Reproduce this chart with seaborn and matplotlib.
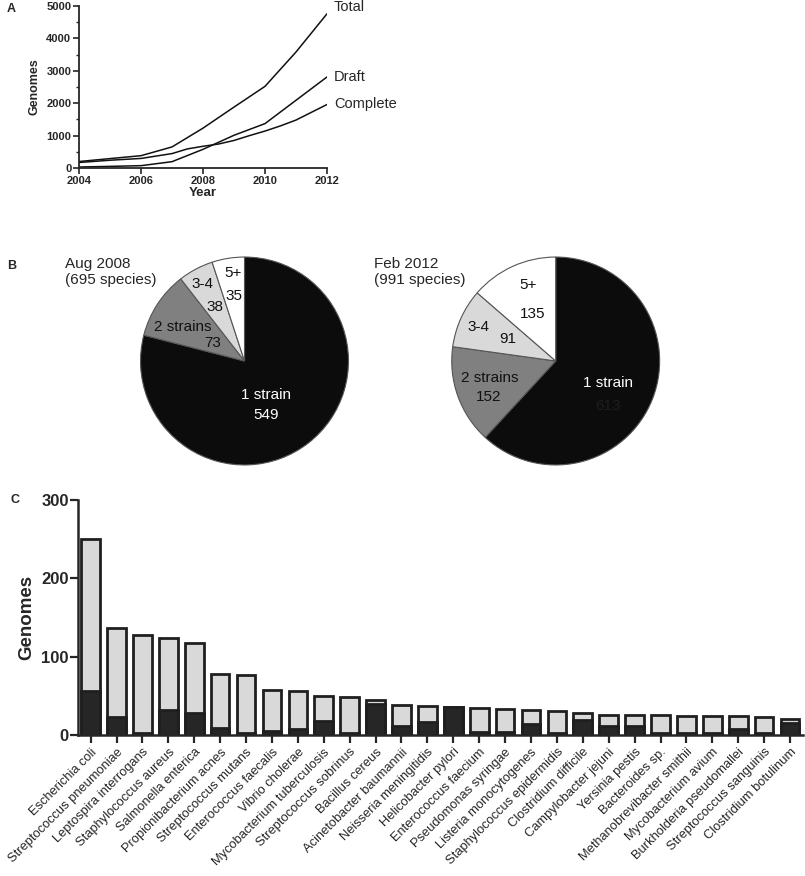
import pandas as pd
import matplotlib
matplotlib.use('Agg')
import matplotlib.pyplot as plt
from matplotlib.ticker import MultipleLocator
import seaborn as sns

# panel A: genome counts per year
years = [2004, 2005, 2006, 2007, 2008, 2009, 2010, 2011, 2012]
total = [200, 290, 380, 650, 1230, 1880, 2520, 3580, 4760]
draft = [30, 50, 72, 195, 576, 1010, 1370, 2090, 2810]
complete_years = [2004, 2005, 2006, 2007, 2007.5, 2008, 2008.5, 2009, 2009.5,
                  2010, 2010.5, 2011, 2011.5, 2012]
complete = [170, 240, 295, 445, 590, 670, 740, 850, 1000, 1140, 1300, 1480, 1720, 1960]

# panel B: species by number of sequenced strains
pie_labels = ['1 strain', '2 strains', '3-4', '5+']
aug2008 = [549, 73, 38, 35]
feb2012 = [613, 152, 91, 135]

# panel C: genomes per species
species = ['Escherichia coli', 'Streptococcus pneumoniae', 'Leptospira interrogans',
           'Staphylococcus aureus', 'Salmonella enterica', 'Propionibacterium acnes',
           'Streptococcus mutans', 'Enterococcus faecalis', 'Vibrio cholerae',
           'Mycobacterium tuberculosis', 'Streptococcus sobrinus', 'Bacillus cereus',
           'Acinetobacter baumannii', 'Neisseria meningitidis', 'Helicobacter pylori',
           'Enterococcus faecium', 'Pseudomonas syringae', 'Listeria monocytogenes',
           'Staphylococcus epidermidis', 'Clostridium difficile', 'Campylobacter jejuni',
           'Yersinia pestis', 'Bacteroides sp.', 'Methanobrevibacter smithii',
           'Mycobacterium avium', 'Burkholderia pseudomallei', 'Streptococcus sanguinis',
           'Clostridium botulinum']
total_genomes = [250, 137, 128, 124, 117, 78, 76, 58, 56, 50, 48, 45, 38, 37, 36,
                 34, 33, 32, 31, 28, 26, 26, 25, 24, 24, 24, 23, 21]
complete_genomes = [56, 23, 3, 32, 28, 9, 3, 5, 8, 18, 3, 40, 12, 16, 36,
                    4, 4, 14, 2, 19, 12, 12, 3, 2, 2, 8, 2, 15]

sns.set_style('ticks')
plt.rcParams['font.family'] = ['Liberation Sans', 'DejaVu Sans']

fig = plt.figure(figsize=(8.05, 8.76), dpi=100)
W, H = 805, 876


def px_axes(x0, y0, x1, y1):
    # axes placed by pixel box (top-left origin)
    return fig.add_axes([x0 / W, 1 - y1 / H, (x1 - x0) / W, (y1 - y0) / H])


#Panel A - line chart
axA = px_axes(79, 6, 327, 168)
sns.lineplot(x=years, y=total, ax=axA, color='#111111', lw=1.1)
sns.lineplot(x=years, y=draft, ax=axA, color='#111111', lw=1.1)
sns.lineplot(x=complete_years, y=complete, ax=axA, color='#111111', lw=1.1)
axA.set_xlim(2004, 2012)
axA.set_ylim(0, 5000)
axA.set_xticks([2004, 2006, 2008, 2010, 2012])
axA.set_yticks([0, 1000, 2000, 3000, 4000, 5000])
axA.yaxis.set_minor_locator(MultipleLocator(500))
axA.tick_params(axis='both', which='major', labelsize=8, width=1.2, length=4, pad=1.5)
axA.tick_params(axis='y', which='minor', width=1.0, length=2.5)
for lab in axA.get_xticklabels() + axA.get_yticklabels():
    lab.set_fontweight('bold')
axA.set_xlabel('Year', fontsize=9.5, fontweight='bold', labelpad=1)
axA.set_ylabel('Genomes', fontsize=9, fontweight='bold', labelpad=4)
for side in ['left', 'bottom']:
    axA.spines[side].set_linewidth(1.3)
sns.despine(ax=axA)
axA.annotate('Total', (years[-1], total[-1]), xytext=(5, 5), textcoords='offset points',
             fontsize=10.5, va='center', annotation_clip=False)
axA.annotate('Draft', (years[-1], draft[-1]), xytext=(5, 0), textcoords='offset points',
             fontsize=10.5, va='center', annotation_clip=False)
axA.annotate('Complete', (complete_years[-1], complete[-1]), xytext=(5, 0),
             textcoords='offset points', fontsize=10.5, va='center', annotation_clip=False)
fig.text(7 / W, 1 - 9 / H, 'A', fontsize=9, fontweight='bold', va='center')

#Panel B - pies
pie_colors = ['#0c0c0c', '#808080', '#d9d9d9', '#ffffff']
# label positions inside each pie (radius units), value under name
left_pos = [((0.21, -0.33), (0.21, -0.52)), ((-0.59, 0.33), (-0.31, 0.17)),
            ((-0.40, 0.74), (-0.28, 0.52)), ((-0.11, 0.85), (-0.10, 0.63))]
right_pos = [((0.50, -0.21), (0.50, -0.43)), ((-0.63, -0.16), (-0.65, -0.35)),
             ((-0.74, 0.33), (-0.46, 0.21)), ((-0.27, 0.73), (-0.22, 0.45))]
left_txt = ['white', '#111111', '#111111', '#111111']
right_txt = [('white', '#1e1e1e'), ('#111111', '#111111'), ('#111111', '#111111'),
             ('#111111', '#111111')]

axB1 = px_axes(139.5, 256, 349.5, 466)
axB1.pie(aug2008, colors=pie_colors, startangle=90, counterclock=False,
         wedgeprops=dict(edgecolor='#555555', linewidth=0.8))
for name, val, pos, c in zip(pie_labels, aug2008, left_pos, left_txt):
    axB1.text(*pos[0], name, fontsize=11, ha='center', va='center', color=c)
    axB1.text(*pos[1], str(val), fontsize=11, ha='center', va='center', color=c)
axB1.set_xlim(-1.01, 1.01)
axB1.set_ylim(-1.01, 1.01)

axB2 = px_axes(450.7, 256, 660.7, 466)
axB2.pie(feb2012, colors=pie_colors, startangle=90, counterclock=False,
         wedgeprops=dict(edgecolor='#555555', linewidth=0.8))
for name, val, pos, c in zip(pie_labels, feb2012, right_pos, right_txt):
    axB2.text(*pos[0], name, fontsize=11, ha='center', va='center', color=c[0])
    axB2.text(*pos[1], str(val), fontsize=11, ha='center', va='center', color=c[1])
axB2.set_xlim(-1.01, 1.01)
axB2.set_ylim(-1.01, 1.01)

fig.text(65 / W, 1 - 272 / H, 'Aug 2008\n(695 species)', fontsize=11, va='center',
         ha='left', linespacing=1.1)
fig.text(374 / W, 1 - 272 / H, 'Feb 2012\n(991 species)', fontsize=11, va='center',
         ha='left', linespacing=1.1)
fig.text(7 / W, 1 - 266 / H, 'B', fontsize=9, fontweight='bold', va='center')

#Panel C - stacked bars
df = pd.DataFrame({'species': species, 'total': total_genomes,
                   'complete': complete_genomes})
axC = px_axes(77.7, 500, 803, 735)
sns.barplot(data=df, x='species', y='total', color='#d9d9d9', saturation=1,
            width=0.72, edgecolor='#1f1f1f', linewidth=2.0, ax=axC)
sns.barplot(data=df, x='species', y='complete', color='#262626', saturation=1,
            width=0.72, edgecolor='#1f1f1f', linewidth=2.0, ax=axC)
axC.set_xlim(-0.5, len(species) - 0.5)
axC.set_ylim(0, 300)
axC.set_yticks([0, 100, 200, 300])
axC.tick_params(axis='y', labelsize=12, width=1.6, length=5.5, pad=1)
axC.tick_params(axis='x', width=1.6, length=6, pad=2)
for lab in axC.get_yticklabels():
    lab.set_fontweight('bold')
axC.set_xticks(range(len(species)))
axC.set_xticklabels(species, rotation=45, ha='right', rotation_mode='anchor', fontsize=9.3)
axC.set_xlabel('')
axC.set_ylabel('Genomes', fontsize=13.5, fontweight='bold', labelpad=4)
for side in ['left', 'bottom']:
    axC.spines[side].set_linewidth(1.8)
sns.despine(ax=axC)
fig.text(15 / W, 1 - 500 / H, 'C', fontsize=9, fontweight='bold', va='center', ha='center')

plt.savefig('out.png', dpi=100)
